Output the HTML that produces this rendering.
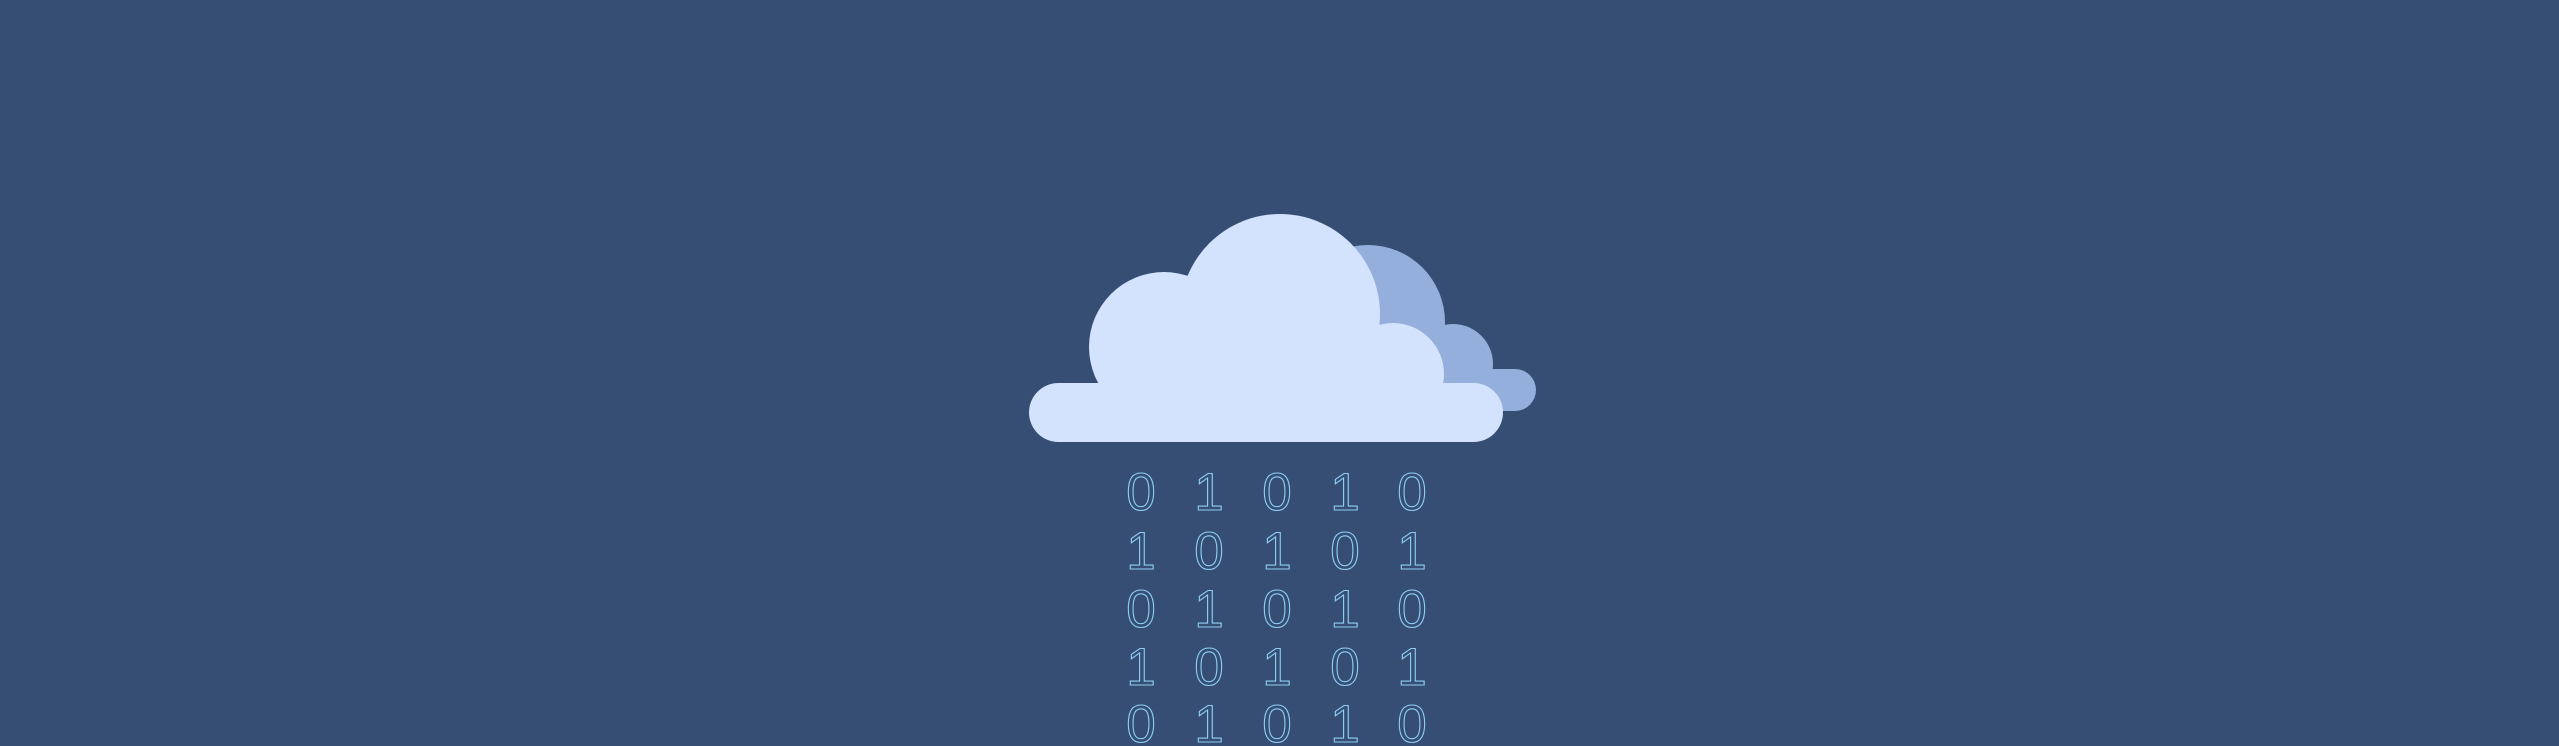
<!DOCTYPE html>
<html><head><meta charset="utf-8"><style>
html,body{margin:0;padding:0;background:#364d74;}
svg{display:block}
</style></head><body>
<svg width="2559" height="746" viewBox="0 0 2559 746" xmlns="http://www.w3.org/2000/svg">
<rect width="2559" height="746" fill="#364d74"/>
<g fill="#94afdb">
<circle cx="1368" cy="322" r="77"/>
<circle cx="1453" cy="364" r="40"/>
<rect x="1380" y="369" width="156" height="42" rx="21"/>
</g>
<g fill="#d3e2fd">
<circle cx="1164" cy="347" r="75"/>
<circle cx="1280" cy="314" r="100"/>
<circle cx="1393" cy="374" r="51"/>
<rect x="1100" y="360" width="293" height="50"/>
<rect x="1029" y="383" width="474" height="59" rx="29.5"/>
</g>
<g font-family="Liberation Sans, sans-serif" font-size="53" fill="none" stroke="#8ecff5" stroke-width="1.1" text-anchor="middle">
<text x="1141" y="510">0</text><text x="1209" y="510">1</text><text x="1277" y="510">0</text><text x="1345" y="510">1</text><text x="1412" y="510">0</text>
<text x="1141" y="569">1</text><text x="1209" y="569">0</text><text x="1277" y="569">1</text><text x="1345" y="569">0</text><text x="1412" y="569">1</text>
<text x="1141" y="627">0</text><text x="1209" y="627">1</text><text x="1277" y="627">0</text><text x="1345" y="627">1</text><text x="1412" y="627">0</text>
<text x="1141" y="685">1</text><text x="1209" y="685">0</text><text x="1277" y="685">1</text><text x="1345" y="685">0</text><text x="1412" y="685">1</text>
<text x="1141" y="742">0</text><text x="1209" y="742">1</text><text x="1277" y="742">0</text><text x="1345" y="742">1</text><text x="1412" y="742">0</text>
</g>
</svg>
</body></html>
